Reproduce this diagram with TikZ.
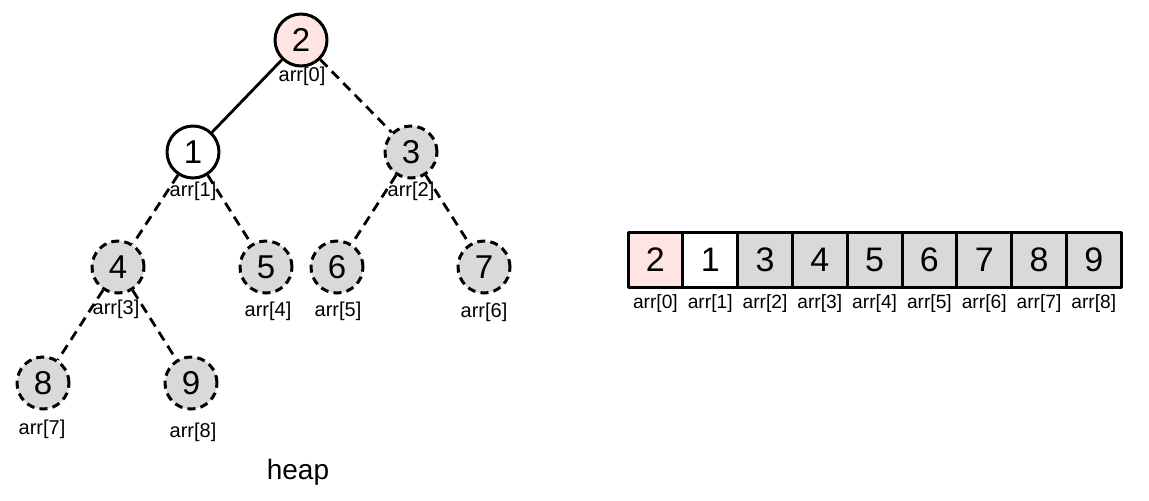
\documentclass[tikz,border=0pt]{standalone}
\usepackage{fontspec}
\setmainfont{Liberation Sans}
\usetikzlibrary{positioning}

\definecolor{rootpink}{RGB}{255,228,228}
\definecolor{heapgray}{RGB}{217,217,217}

\begin{document}
\begin{tikzpicture}[
				x=0.5pt,
				y=-0.5pt,
				line join=round,
				hnode/.style={circle, draw, line width=1.5pt, minimum size=26pt,
					inner sep=0pt, font=\fontsize{16.5}{16.5}\selectfont},
				rootnode/.style={hnode, fill=rootpink},
				keptnode/.style={hnode, fill=white},
				restnode/.style={hnode, fill=heapgray, dash pattern=on 4pt off 2.6pt},
				idx/.style={inner sep=0pt, font=\fontsize{10}{10}\selectfont},
				solidedge/.style={line width=1.4pt},
				dashedge/.style={line width=1.4pt, dash pattern=on 5pt off 3.2pt},
				cell/.style={draw, line width=1.5pt, minimum width=27.4pt,
					minimum height=27.5pt, inner sep=0pt, font=\fontsize{17}{17}\selectfont},
				cellidx/.style={inner sep=0pt, font=\fontsize{9.6}{9.6}\selectfont}
				]
				\useasboundingbox (0,0) rectangle (1149,500);
				
				% Tree
				\node[rootnode] (n0) at (301,40) {2};
				\node[keptnode] (n1) at (193,152) {1};
				\node[restnode] (n2) at (411,152) {3};
				\node[restnode] (n3) at (118,267) {4};
				\node[restnode] (n4) at (266,267) {5};
				\node[restnode] (n5) at (337,267) {6};
				\node[restnode] (n6) at (484,267) {7};
				\node[restnode] (n7) at (43,383) {8};
				\node[restnode] (n8) at (191,383) {9};
				
				\draw[solidedge] (n0) -- (n1);
				\draw[dashedge] (n0) -- (n2);
				\draw[dashedge] (n1) -- (n3);
				\draw[dashedge] (n1) -- (n4);
				\draw[dashedge] (n2) -- (n5);
				\draw[dashedge] (n2) -- (n6);
				\draw[dashedge] (n3) -- (n7);
				\draw[dashedge] (n3) -- (n8);
				
				% Tree indices
				\node[idx] (t0) at (302,76) {arr[0]};
				\node[idx] (t1) at (193,191) {arr[1]};
				\node[idx] (t2) at (411,191) {arr[2]};
				\node[idx] (t3) at (116,309) {arr[3]};
				\node[idx] (t4) at (268,311) {arr[4]};
				\node[idx] (t5) at (338,311) {arr[5]};
				\node[idx] (t6) at (484,312) {arr[6]};
				\node[idx] (t7) at (42,429) {arr[7]};
				\node[idx] (t8) at (193,432) {arr[8]};
				
				\node[inner sep=0pt, font=\fontsize{14}{14}\selectfont] (title) at (298,472) {heap};
				
				% Array
				\foreach \v/\f [count=\i from 0] in {2/rootpink,1/white,3/heapgray,4/heapgray,
					5/heapgray,6/heapgray,7/heapgray,8/heapgray,9/heapgray}{
					\node[cell, fill=\f] (c\i) at ({655.4+54.8*\i},260) {\v};
					\node[cellidx] (a\i) at ({655.4+54.8*\i},304) {arr[\i]};
				}
			\end{tikzpicture}
\end{document}
